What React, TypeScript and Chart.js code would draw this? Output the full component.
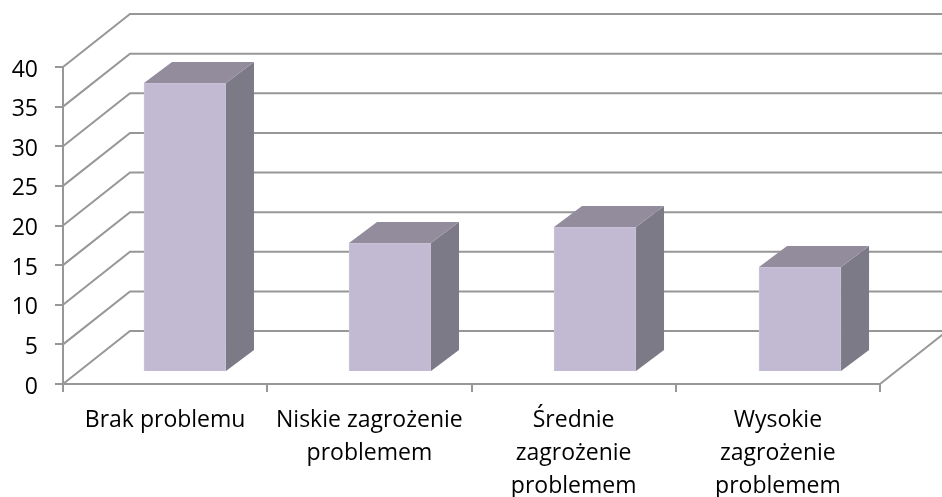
import React, { useEffect, useRef } from "react";
import { Chart, registerables } from "chart.js";

Chart.register(...registerables);

const categories = [
  "Brak problemu",
  ["Niskie zagrożenie", "problemem"],
  ["Średnie", "zagrożenie", "problemem"],
  ["Wysokie", "zagrożenie", "problemem"],
];
const values = [36, 16, 18, 13];
const yTicks = { min: 0, max: 40, step: 5 };

const FONT = '"Open Sans", sans-serif';
const GRID = "#979797";
const WALL_DX = 67;
const WALL_DY = 53;
const BAR_DX = 28;
const BAR_DY = 21;

const walls3d = {
  id: "walls3d",
  beforeDatasetsDraw(chart: any) {
    const { ctx, chartArea: a, scales } = chart;
    ctx.save();
    ctx.strokeStyle = GRID;
    ctx.lineWidth = 2;
    ctx.lineJoin = "miter";
    scales.y.ticks.forEach((t: any) => {
      const y = scales.y.getPixelForValue(t.value);
      ctx.beginPath();
      ctx.moveTo(a.left, y);
      ctx.lineTo(a.left + WALL_DX, y - WALL_DY);
      ctx.lineTo(chart.width, y - WALL_DY);
      ctx.stroke();
    });
    ctx.beginPath();
    ctx.moveTo(a.right, a.bottom);
    ctx.lineTo(a.right + WALL_DX, a.bottom - WALL_DY);
    ctx.stroke();
    ctx.restore();
  },
  afterDatasetDraw(chart: any, args: any) {
    const { ctx } = chart;
    ctx.save();
    args.meta.data.forEach((el: any) => {
      const p = el.getProps(["x", "y", "base", "width"], true);
      const l = p.x - p.width / 2;
      const r = p.x + p.width / 2;
      ctx.fillStyle = "#7d7a88";
      ctx.beginPath();
      ctx.moveTo(r, p.y);
      ctx.lineTo(r + BAR_DX, p.y - BAR_DY);
      ctx.lineTo(r + BAR_DX, p.base - BAR_DY);
      ctx.lineTo(r, p.base);
      ctx.closePath();
      ctx.fill();
      ctx.fillStyle = "#938c9d";
      ctx.beginPath();
      ctx.moveTo(l, p.y);
      ctx.lineTo(l + BAR_DX, p.y - BAR_DY);
      ctx.lineTo(r + BAR_DX, p.y - BAR_DY);
      ctx.lineTo(r, p.y);
      ctx.closePath();
      ctx.fill();
    });
    ctx.restore();
  },
};

export default function App() {
  const ref = useRef<HTMLCanvasElement>(null);
  useEffect(() => {
    const chart = new Chart(ref.current as HTMLCanvasElement, {
      type: "bar",
      data: {
        labels: categories as any,
        datasets: [
          {
            data: values.map((v, i) => ({ x: i, y: v })) as any,
            xAxisID: "x2",
            yAxisID: "y2",
            backgroundColor: "#c1bad2",
            borderColor: "#cbc5da",
            borderWidth: 1,
            barThickness: 82,
            clip: false as any,
          },
        ],
      },
      plugins: [walls3d],
      options: {
        animation: false,
        responsive: false,
        layout: { padding: { top: 67, right: 62, left: 0, bottom: 0 } },
        plugins: { legend: { display: false }, tooltip: { enabled: false } },
        scales: {
          x: {
            type: "category",
            offset: true,
            afterFit: (s: any) => {
              s.height = 113;
            },
            grid: { offset: true, drawOnChartArea: false, color: GRID, lineWidth: 2, tickLength: 8 },
            border: { color: GRID, width: 2 },
            ticks: {
              autoSkip: false,
              maxRotation: 0,
              color: "#000",
              padding: 12,
              font: { family: FONT, size: 23, lineHeight: 1.43 },
            },
          },
          x2: { type: "linear", display: false, offset: false, min: -0.595, max: 3.39 },
          y: {
            min: yTicks.min,
            max: yTicks.max,
            afterFit: (s: any) => {
              s.width = 63;
            },
            grid: { drawOnChartArea: false, color: GRID, lineWidth: 2, tickLength: 8 },
            border: { color: GRID, width: 2 },
            ticks: {
              stepSize: yTicks.step,
              color: "#000",
              padding: 17,
              labelOffset: 3,
              font: { family: FONT, size: 23 },
            },
          },
          y2: { display: false, min: -1.625, max: 38 },
        },
      },
    });
    return () => chart.destroy();
  }, []);
  return (
    <div style={{ position: "fixed", left: 0, top: 0, width: 942, height: 497, background: "#fff" }}>
      <canvas ref={ref} width={942} height={497} style={{ display: "block" }} />
    </div>
  );
}
